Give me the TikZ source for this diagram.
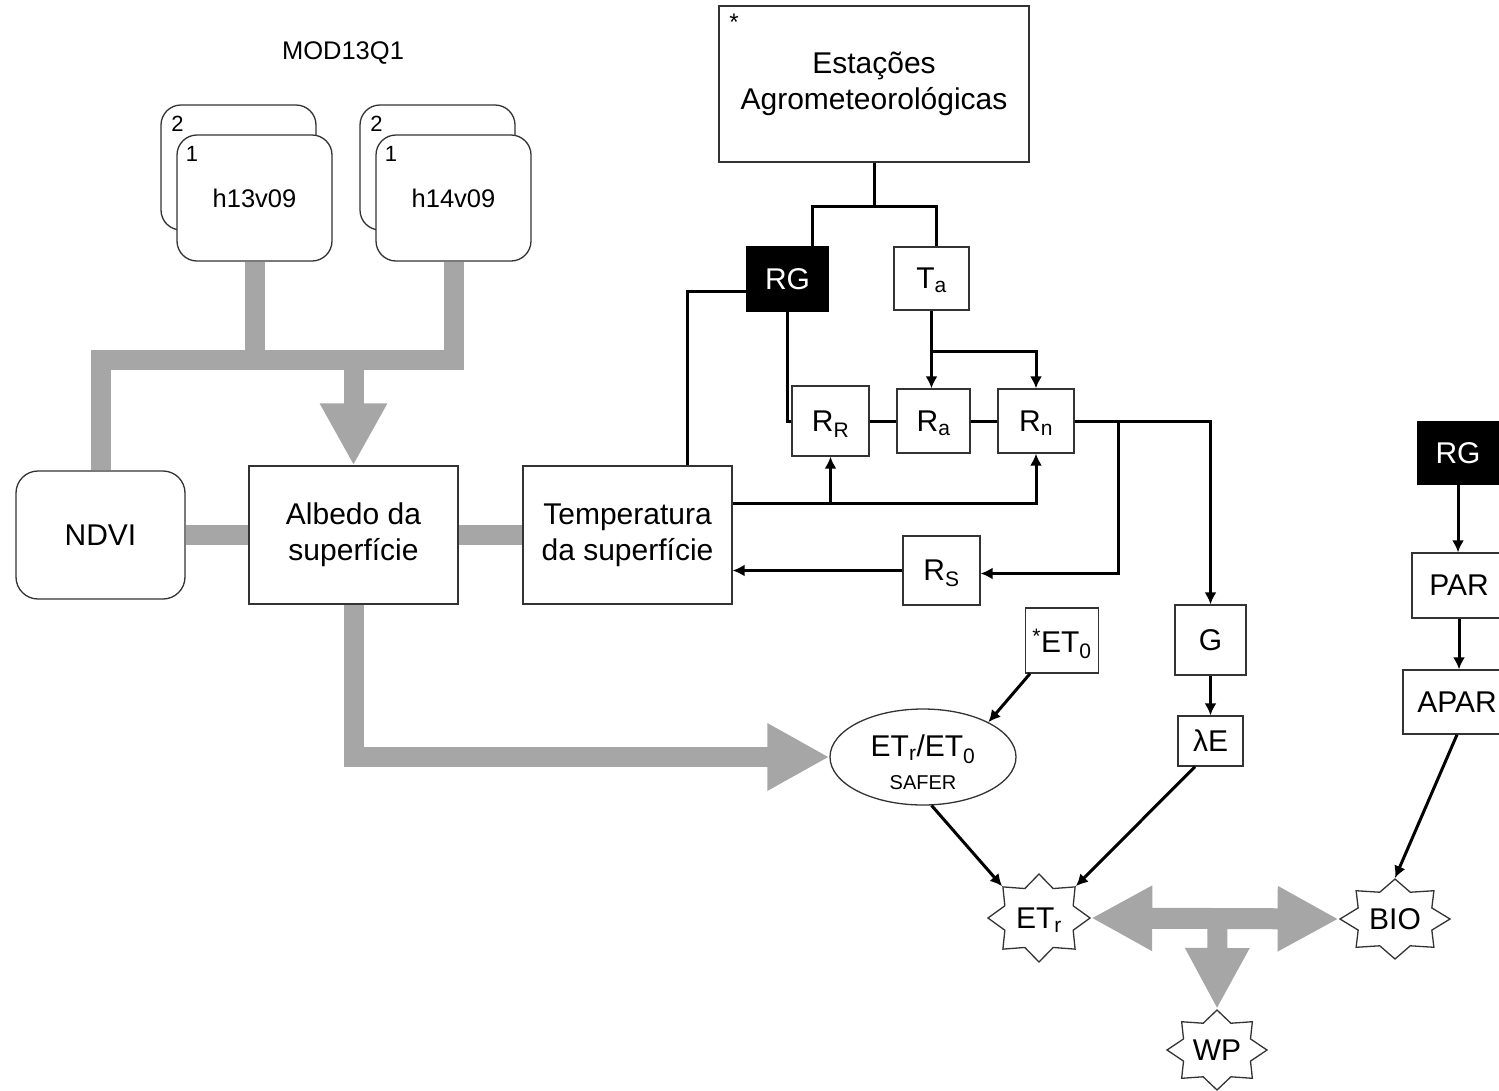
\documentclass[tikz,border=0pt]{standalone}
\usepackage{fontspec}
\setmainfont{Liberation Sans}
\usetikzlibrary{arrows.meta,shapes.geometric,calc}
\definecolor{bargray}{HTML}{A6A6A6}
\begin{document}
\begin{tikzpicture}[x=1pt,y=-1pt,
  big/.style={font=\fontsize{30}{36}\selectfont},
  mid/.style={font=\fontsize{25.5}{30}\selectfont},
  num/.style={font=\fontsize{22}{24}\selectfont, inner sep=0pt},
  box/.style={draw=black!80, line width=1.3pt, fill=white, inner sep=0pt, align=center, big},
  subbox/.style={box, text depth=0pt},
  tile/.style={box, rounded corners=20pt, mid},
  blackbox/.style={box, fill=black, text=white, draw=black},
  conn/.style={line width=3pt},
  arr/.style={conn, -{Latex[length=12pt,width=12pt]}},
  bar/.style={draw=bargray, line width=20pt},
  seal/.style={star, star points=8, star point ratio=1.38, draw=black!80, line width=1.3pt, fill=white, inner sep=0pt, transform shape},
  seallbl/.style={big, inner sep=0pt, text depth=0pt},
  ]
\useasboundingbox (0,0) rectangle (1499,1090);
\fill[white] (0,0) rectangle (1499,1090);
\clip (0,0) rectangle (1499,1090);

% MODIS tiles
\node[mid] (mod) at (343,53) {MOD13Q1};
\node[tile, minimum width=155pt, minimum height=125pt] (t13b) at (238.5,167.5) {};
\node[num] (n13b) at (177.5,123.5) {2};
\node[tile, minimum width=155pt, minimum height=126pt] (t13f) at (254.5,198) {h13v09};
\node[num] (n13f) at (192,153.5) {1};
\node[tile, minimum width=155pt, minimum height=125pt] (t14b) at (437.5,167.5) {};
\node[num] (n14b) at (376.5,123.5) {2};
\node[tile, minimum width=155pt, minimum height=126pt] (t14f) at (453.5,198) {h14v09};
\node[num] (n14f) at (391,153.5) {1};

% left boxes
\node[box, rounded corners=22pt, minimum width=169pt, minimum height=128pt] (ndvi) at (100.5,535) {NDVI};
\node[box, minimum width=209pt, minimum height=138pt] (albedo) at (353.5,535) {Albedo da\\superfície};
\node[box, minimum width=209pt, minimum height=138pt] (temp) at (627.5,535) {Temperatura\\da superfície};

% stations
\node[box, minimum width=310pt, minimum height=156pt] (est) at (874,84) {Estações\\Agrometeorológicas};
\node[anchor=north, inner sep=0pt, font=\fontsize{24}{24}\selectfont] (estast) at (734,14) {*};

\node[blackbox, minimum width=81pt, minimum height=64pt] (rg) at (787.5,279) {RG};
\node[subbox, minimum width=75pt, minimum height=63pt] (ta) at (931.5,278.5) {T\textsubscript{a}};
\node[subbox, minimum width=77pt, minimum height=70pt] (rr) at (830.5,421) {R\textsubscript{R}};
\node[subbox, minimum width=73pt, minimum height=64pt] (ra) at (933.5,421) {R\textsubscript{a}};
\node[subbox, minimum width=76pt, minimum height=64pt] (rn) at (1036,421) {R\textsubscript{n}};
\node[subbox, minimum width=77pt, minimum height=69pt] (rs) at (941.5,570.5) {R\textsubscript{S}};
\node[box, minimum width=71pt, minimum height=70pt] (g) at (1210.5,640) {G};
\node[box, minimum width=65pt, minimum height=50pt] (le) at (1210.5,741) {λE};
\node[subbox, minimum width=73pt, minimum height=65pt] (et0) at (1062,640.5) {\textsuperscript{*}ET\textsubscript{0}};

\node[draw=black!80, line width=1.3pt, fill=white, ellipse, minimum width=186pt, minimum height=96pt, inner sep=0pt, align=center, font=\fontsize{30}{33}\selectfont] (safer) at (923,757)
  {\rule{0pt}{33pt}ET\textsubscript{r}/ET\textsubscript{0}\\{\fontsize{20}{33}\selectfont SAFER}};

% right column
\node[blackbox, minimum width=80pt, minimum height=63pt] (rg2) at (1458,453) {RG};
\node[box, minimum width=94pt, minimum height=65pt] (par) at (1459,585.5) {PAR};
\node[box, minimum width=108pt, minimum height=64pt] (apar) at (1457,702) {APAR};

% stars
\begin{scope}[shift={(1039,918)}, xscale=1.16]
  \node[seal, minimum size=88pt] (etr) at (0,0) {};
\end{scope}
\begin{scope}[shift={(1395,919)}, xscale=1.375]
  \node[seal, minimum size=80pt] (bio) at (0,0) {};
\end{scope}
\begin{scope}[shift={(1217,1050)}, xscale=1.25]
  \node[seal, minimum size=80pt] (wp) at (0,0) {};
\end{scope}
\node[seallbl] (etrl) at (etr.center) {ET\textsubscript{r}};
\node[seallbl] (biol) at (bio.center) {BIO};
\node[seallbl] (wpl) at (wp.center) {WP};

% gray bars
\draw[bar] (ndvi.north) -- (ndvi.north |- 0,360) -- (t14f.south |- 0,360) -- (t14f.south);
\draw[bar] (t13f.south) -- (t13f.south |- 0,360);
\draw[bar, -{Triangle[length=62pt 0,width=63pt 0]}] (albedo.north |- 0,360) -- (albedo.north);
\draw[bar] (ndvi.east) -- (albedo.west);
\draw[bar] (albedo.east) -- (temp.west);
\draw[bar, -{Triangle[length=62pt 0,width=63pt 0]}] (albedo.south) -- (albedo.south |- safer.west) -- (safer.west);
\draw[bar, line width=21pt, {Triangle[length=61pt 0,width=61pt 0]}-{Triangle[length=61pt 0,width=61pt 0]}] (etr.east) -- (bio.west);
\coordinate (junc) at ($(etr.east)!0.51!(bio.west)$);
\draw[bar, -{Triangle[length=61pt 0,width=60pt 0]}] (junc) -- (wp.north);

% black connectors
\draw[conn] (est.south) -- (est.south |- 0,207);
\draw[conn] ([xshift=25pt]rg.north) -- ++(0,-40) -| ([xshift=4.5pt]ta.north);
\draw[conn] ([yshift=-12pt]rg.west) -| ([xshift=59.5pt]temp.north);
\draw[conn] (rg.south) |- (rr.west);
\draw[conn] (rr.east) -- (ra.west);
\draw[conn] (ra.east) -- (rn.west);
\draw[arr] (ta.south) -- (ta.south |- ra.north);
\draw[arr] (ta.south |- 0,351) -| (rn.north);
\draw[arr] (temp.east |- 0,503) -| (rn.south);
\draw[arr] (rr.south |- 0,503) -- (rr.south);
\draw[arr] (rn.east) -| (g.north);
\draw[arr] (rn.east -| 1118,0) |- ([yshift=-3pt]rs.east);
\draw[arr] (rs.west) -- (rs.west -| temp.east);
\draw[arr] (g.south) -- (le.north);
\draw[arr] ([xshift=-32pt]et0.south) -- (safer.28);
\draw[arr] (safer.280) -- (etr.north west);
\draw[arr] ([xshift=-15.5pt]le.south) -- (etr.north east);
\draw[arr] (rg2.south) -- (rg2.south |- par.north);
\draw[arr] (par.south) -- (par.south |- apar.north);
\draw[arr] (apar.south) -- (bio.north);
\end{tikzpicture}
\end{document}
